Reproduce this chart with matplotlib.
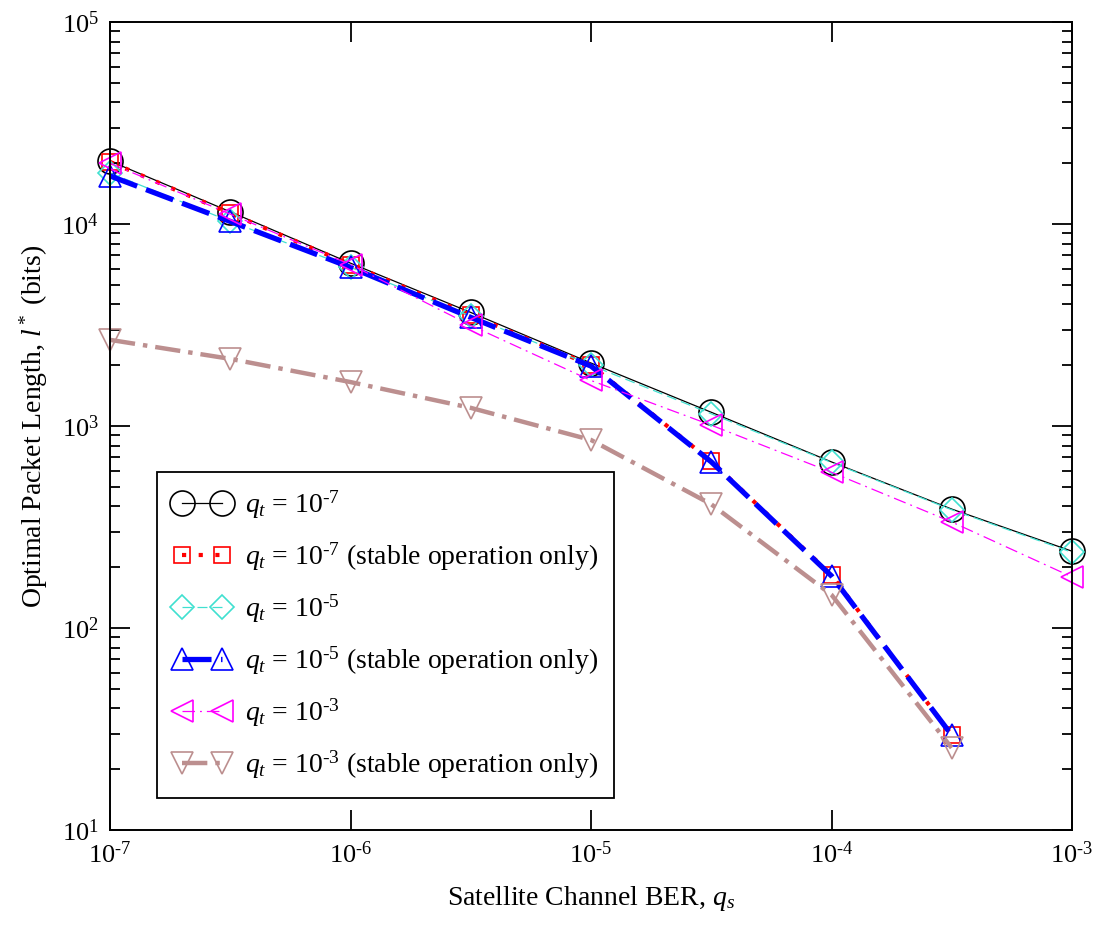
import matplotlib
matplotlib.use("Agg")
import matplotlib.pyplot as plt
from matplotlib.ticker import LogLocator, NullLocator, NullFormatter, FuncFormatter
import numpy as np

plt.rcParams['font.family'] = ['Liberation Serif', 'DejaVu Serif']
plt.rcParams['mathtext.fontset'] = 'custom'
plt.rcParams['mathtext.rm'] = 'Liberation Serif'
plt.rcParams['mathtext.it'] = 'Liberation Serif:italic'

# x: satellite channel BER
qs = [1e-7, 3.16e-7, 1e-6, 3.16e-6, 1e-5, 3.16e-5, 1e-4, 3.16e-4, 1e-3]

# q_t = 1e-7
l_qt7 = [20500, 11500, 6400, 3650, 2050, 1170, 664, 388, 240]
# q_t = 1e-7 stable only
l_qt7_stable = [20300, 11300, 6300, 3550, 2000, 670, 183, 29.5]
# q_t = 1e-5
l_qt5 = [17900, 10300, 6100, 3500, 2000, 1150, 660, 385, 237]
# q_t = 1e-5 stable only
l_qt5_stable = [17300, 10300, 6100, 3450, 1980, 665, 181, 29.5]
# q_t = 1e-3
l_qt3 = [20000, 11200, 6300, 3150, 1680, 1010, 590, 335, 179]
# q_t = 1e-3 stable only
l_qt3_stable = [2670, 2150, 1650, 1230, 853, 410, 146, 25.5]

labels = [r'$q_t$ = 10$^{\text{-7}}$',
          r'$q_t$ = 10$^{\text{-7}}$ (stable operation only)',
          r'$q_t$ = 10$^{\text{-5}}$',
          r'$q_t$ = 10$^{\text{-5}}$ (stable operation only)',
          r'$q_t$ = 10$^{\text{-3}}$',
          r'$q_t$ = 10$^{\text{-3}}$ (stable operation only)']

fig = plt.figure(figsize=(11.02, 9.30), dpi=100)
ax = fig.add_axes([110/1102, 1-830/930, 962/1102, 808/930])

common = dict(mfc='none', mew=1.2, clip_on=False)
ax.plot(qs, l_qt7, color='black', lw=0.9, ls='-', marker='o', ms=18,
        mec='black', label=labels[0], **common)
ax.plot(qs[:len(l_qt7_stable)], l_qt7_stable, color='red', lw=3.0,
        ls=(0, (1, 3)), dash_capstyle='butt', marker='s', ms=12,
        mec='red', label=labels[1], **common)
ax.plot(qs, l_qt5, color='#40e0d0', lw=0.9, ls=(0, (8, 4)), marker='D', ms=12.5,
        mec='#40e0d0', label=labels[2], **common)
ax.plot(qs[:len(l_qt5_stable)], l_qt5_stable, color='blue', lw=3.8,
        ls=(0, (5.5, 1.8)), dash_capstyle='butt', marker='^', ms=16,
        mec='blue', label=labels[3], **common)
ax.plot(qs, l_qt3, color='magenta', lw=0.9, ls=(0, (10, 4, 1.5, 4)), marker='<', ms=16,
        mec='magenta', label=labels[4], **common)
ax.plot(qs[:len(l_qt3_stable)], l_qt3_stable, color='#bc8f8f', lw=3.2,
        ls=(0, (5.7, 1.8, 1, 1.8)), dash_capstyle='butt', marker='v', ms=16,
        mec='#bc8f8f', label=labels[5], **common)

ax.set_xscale('log')
ax.set_yscale('log')
ax.set_xlim(1e-7, 1e-3)
ax.set_ylim(10, 1e5)

def fmt(v, pos):
    e = int(round(np.log10(v)))
    return r'10$^{\text{%d}}$' % e

ax.xaxis.set_major_locator(LogLocator(base=10, numticks=10))
ax.xaxis.set_minor_locator(NullLocator())
ax.xaxis.set_major_formatter(FuncFormatter(fmt))
ax.yaxis.set_major_locator(LogLocator(base=10, numticks=10))
ax.yaxis.set_minor_locator(LogLocator(base=10, subs=np.arange(2, 10), numticks=20))
ax.yaxis.set_minor_formatter(NullFormatter())
ax.yaxis.set_major_formatter(FuncFormatter(fmt))

ax.tick_params(which='both', direction='in', top=True, right=True,
               labelsize=19, width=1.3, pad=8)
ax.tick_params(which='major', length=14.4)
ax.tick_params(which='minor', length=7.2)
for s in ax.spines.values():
    s.set_linewidth(1.4)

ax.set_xlabel(r'Satellite Channel BER, $q_s$', fontsize=20, labelpad=12)
ax.set_ylabel(r'Optimal Packet Length, $l^*$ (bits)', fontsize=20, labelpad=8)

leg = ax.legend(loc='lower left', bbox_to_anchor=(0.049, 0.040), borderaxespad=0,
                fontsize=20, numpoints=2, handlelength=2.05, handletextpad=0.5,
                labelspacing=0.7, fancybox=False, framealpha=1, edgecolor='black',
                borderpad=0.6)
leg.get_frame().set_linewidth(1.3)

fig.savefig('out.png', dpi=100)
